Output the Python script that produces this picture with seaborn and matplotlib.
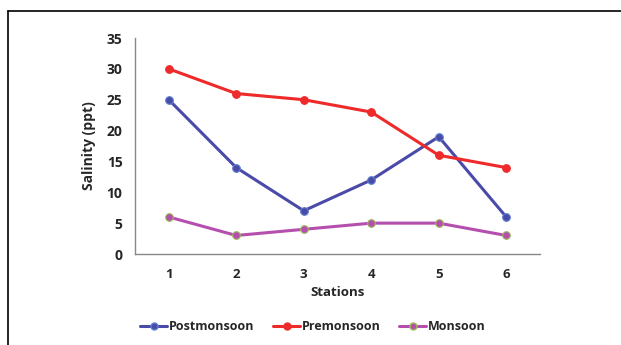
import matplotlib
matplotlib.use("Agg")
import matplotlib.pyplot as plt
from matplotlib.lines import Line2D
import seaborn as sns
import pandas as pd

stations = [1, 2, 3, 4, 5, 6]
postmonsoon = [25, 14, 7, 12, 19, 6]
premonsoon = [30, 26, 25, 23, 16, 14]
monsoon = [6, 3, 4, 5, 5, 3]
series_names = ["Postmonsoon", "Premonsoon", "Monsoon"]
y_ticks = [0, 5, 10, 15, 20, 25, 30, 35]

colors = {"Postmonsoon": "#4A4AA8", "Premonsoon": "#EE2A2A", "Monsoon": "#B54FAE"}
edge_colors = {"Postmonsoon": "#5B7FD0", "Premonsoon": "#EE2A2A", "Monsoon": "#9BBB59"}

df = pd.DataFrame({
    "Station": stations * 3,
    "Salinity": postmonsoon + premonsoon + monsoon,
    "Season": [n for n in series_names for _ in stations],
})

sns.set_style("white")
plt.rcParams["font.family"] = ["Open Sans", "DejaVu Sans"]

fig = plt.figure(figsize=(6.21, 3.45), dpi=100)
ax = fig.add_axes([135 / 621, 1 - 254 / 345, 405 / 621, 216 / 345])

for name in series_names:
    sub = df[df["Season"] == name]
    sns.lineplot(data=sub, x="Station", y="Salinity", ax=ax, color=colors[name],
                 linewidth=2.2, marker="o", markersize=5.5,
                 markerfacecolor=colors[name], markeredgecolor=edge_colors[name],
                 markeredgewidth=0.8, legend=False)

ax.set_xlim(0.5, 6.5)
ax.set_ylim(0, 35)
ax.set_xticks(stations)
ax.set_yticks(y_ticks)
ax.tick_params(axis="x", length=0, labelsize=9.5, pad=10)
ax.tick_params(axis="y", length=0, labelsize=10, pad=9)
for lab in ax.get_xticklabels() + ax.get_yticklabels():
    lab.set_fontweight("bold")
ax.set_xlabel("Stations", fontsize=9.5, fontweight="bold", labelpad=4)
ax.set_ylabel("Salinity (ppt)", fontsize=10, fontweight="bold", labelpad=8)

for side in ["top", "right"]:
    ax.spines[side].set_visible(False)
for side in ["left", "bottom"]:
    ax.spines[side].set_color("#888888")
    ax.spines[side].set_linewidth(1.0)

handles = [Line2D([0], [0], color=colors[n], linewidth=2.2, marker="o", markersize=5,
                  markerfacecolor=colors[n], markeredgecolor=edge_colors[n])
           for n in series_names]
fig.legend(handles, series_names, loc="center", bbox_to_anchor=(313 / 621, 1 - 327 / 345),
           ncol=3, frameon=False, handlelength=2.15, handletextpad=0.15, columnspacing=1.5,
           prop={"weight": "bold", "size": 9})

# frame around the figure panel
top = 1 - 10.5 / 345
left = 7.5 / 621
fig.add_artist(Line2D([left, 1], [top, top], transform=fig.transFigure, color="black", linewidth=1.2))
fig.add_artist(Line2D([left, left], [0, top], transform=fig.transFigure, color="black", linewidth=1.2))

fig.savefig("out.png", dpi=100)
